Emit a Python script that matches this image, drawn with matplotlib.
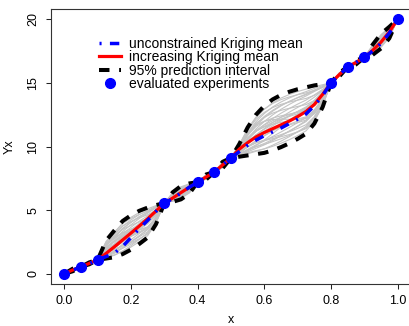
import numpy as np
import matplotlib
matplotlib.use("Agg")
import matplotlib.pyplot as plt

plt.rcParams['font.family'] = ['Liberation Sans', 'DejaVu Sans']

# evaluated experiments
x_obs = [0.0, 0.05, 0.1, 0.3, 0.4, 0.45, 0.5, 0.8, 0.85, 0.9, 1.0]
y_obs = [0.0, 0.55, 1.1, 5.55, 7.2, 8.0, 9.1, 15.0, 16.25, 17.0, 20.0]

# prediction grid
x_grid = [0.0, 0.025, 0.05, 0.075, 0.1, 0.125, 0.15, 0.175, 0.2, 0.225, 0.25, 0.275,
          0.3, 0.325, 0.35, 0.375, 0.4, 0.425, 0.45, 0.475, 0.5, 0.525, 0.55, 0.575,
          0.6, 0.625, 0.65, 0.675, 0.7, 0.725, 0.75, 0.775, 0.8, 0.825, 0.85, 0.875,
          0.9, 0.925, 0.95, 0.975, 1.0]

# increasing (constrained) Kriging mean
mean_inc = [0.0, 0.3, 0.55, 0.82, 1.1, 1.6, 2.12, 2.66, 3.2, 3.76, 4.33, 4.93,
            5.55, 5.95, 6.38, 6.8, 7.2, 7.6, 8.0, 8.55, 9.1, 9.8, 10.3, 10.75,
            11.1, 11.4, 11.7, 12.0, 12.35, 12.75, 13.3, 14.1, 15.0, 15.65, 16.25, 16.6,
            17.0, 17.55, 18.2, 19.0, 20.0]

# unconstrained Kriging mean
mean_unc = [0.0, 0.28, 0.55, 0.8, 1.1, 1.35, 1.62, 2.15, 2.85, 3.55, 4.2, 4.9,
            5.55, 5.9, 6.35, 6.8, 7.2, 7.6, 8.0, 8.55, 9.1, 9.6, 10.1, 10.5,
            10.85, 11.15, 11.45, 11.8, 12.15, 12.55, 13.2, 14.0, 15.0, 15.62, 16.25, 16.6,
            17.0, 17.5, 18.1, 18.9, 20.0]

# 95% prediction interval
upper = [0.0, 0.4, 0.55, 0.9, 1.1, 2.6, 3.4, 4.15, 4.6, 4.95, 5.2, 5.4,
         5.55, 6.4, 6.9, 7.1, 7.2, 7.8, 8.0, 8.8, 9.1, 10.2, 11.5, 12.5,
         13.2, 13.7, 14.05, 14.3, 14.5, 14.65, 14.8, 14.9, 15.0, 15.8, 16.25, 16.75,
         17.0, 18.0, 18.85, 19.4, 20.0]
lower = [0.0, 0.2, 0.55, 0.75, 1.1, 1.2, 1.3, 1.55, 1.9, 2.35, 2.85, 3.9,
         5.55, 5.65, 5.85, 6.3, 7.2, 7.4, 8.0, 8.3, 9.1, 9.2, 9.3, 9.4,
         9.5, 9.7, 9.95, 10.25, 10.6, 11.0, 11.8, 13.1, 15.0, 15.5, 16.25, 16.45,
         17.0, 17.2, 17.7, 18.5, 20.0]

# simulated sample paths: relative position inside the interval at start / end of each gap
path_frac_start = [0.03, 0.10, 0.18, 0.25, 0.33, 0.40, 0.47, 0.55, 0.62, 0.70,
                   0.78, 0.86, 0.94, 0.97, 0.08, 0.22, 0.36, 0.50, 0.64, 0.80,
                   0.90, 0.15, 0.45, 0.58, 0.72, 0.28, 0.05, 0.95, 0.66, 0.38]
path_frac_end = [0.20, 0.05, 0.40, 0.60, 0.15, 0.75, 0.30, 0.90, 0.45, 0.25,
                 0.95, 0.55, 0.70, 0.85, 0.35, 0.10, 0.65, 0.80, 0.50, 0.40,
                 0.98, 0.30, 0.60, 0.20, 0.88, 0.52, 0.72, 0.12, 0.92, 0.02]

xg = np.array(x_grid)
lo = np.array(lower)
up = np.array(upper)
xo = np.array(x_obs)
idx = np.clip(np.searchsorted(xo, xg, side='right') - 1, 0, len(xo) - 2)
t_loc = (xg - xo[idx]) / (xo[idx + 1] - xo[idx])

fig = plt.figure(figsize=(4.10, 3.26), dpi=100)
ax = fig.add_axes([51 / 410, 42 / 326, 360 / 410, 275 / 326])

for fa, fb in zip(path_frac_start, path_frac_end):
    frac = fa * (1 - t_loc) + fb * t_loc
    ax.plot(xg, lo + frac * (up - lo), color='#C4C4C4', lw=0.8, zorder=1)

dash = (0, (2.6, 2.4))
l_bnd, = ax.plot(x_grid, upper, color='black', lw=2.9, linestyle=dash,
                 zorder=3, label='95% prediction interval')
ax.plot(x_grid, lower, color='black', lw=2.9, linestyle=dash, zorder=3)
l_inc, = ax.plot(x_grid, mean_inc, color='#FF0000', lw=2.3, zorder=4,
                 label='increasing Kriging mean')
l_unc, = ax.plot(x_grid, mean_unc, color='#0000FF', lw=2.5,
                 linestyle=(0, (0.6, 2.4, 2.7, 2.4)), zorder=5,
                 label='unconstrained Kriging mean')
l_pts, = ax.plot(x_obs, y_obs, 'o', color='#0000FF', ms=7, zorder=6,
                 label='evaluated experiments')

ax.set_xlim(-0.04, 1.04)
ax.set_ylim(-0.8, 20.8)
ax.set_xticks([0.0, 0.2, 0.4, 0.6, 0.8, 1.0])
ax.set_xticklabels(['0.0', '0.2', '0.4', '0.6', '0.8', '1.0'])
ax.set_yticks([0, 5, 10, 15, 20])
ax.tick_params(axis='both', labelsize=9, length=3.6, width=0.75, color='#222222')
ax.tick_params(axis='x', pad=4.5)
ax.tick_params(axis='y', pad=5)
for lab in ax.get_yticklabels():
    lab.set_rotation(90)
    lab.set_va('center')
for s in ax.spines.values():
    s.set_linewidth(0.8)
    s.set_color('#333333')

ax.set_xlabel('x', fontsize=9, labelpad=5)
ax.set_ylabel('Yx', fontsize=9, labelpad=8)

leg = ax.legend(handles=[l_unc, l_inc, l_bnd, l_pts], loc='upper left',
                bbox_to_anchor=(99 / 410, 1 - 37 / 326), bbox_transform=fig.transFigure,
                frameon=False, fontsize=10, handlelength=1.6, handletextpad=0.55,
                labelspacing=-0.05, borderpad=0, borderaxespad=0, numpoints=1)

fig.savefig('out.png', dpi=100)
